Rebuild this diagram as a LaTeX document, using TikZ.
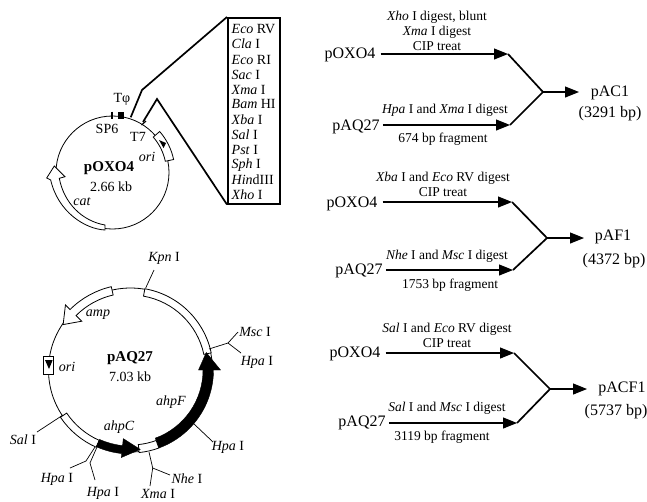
\documentclass[tikz,border=0pt]{standalone}
\usepackage{fontspec}
\setmainfont{Liberation Serif}
\usetikzlibrary{arrows.meta}
\tikzset{
 x=1pt,y=1pt,
 lab/.style={inner sep=0pt,font=\fontsize{14}{16}\selectfont},
 plab/.style={inner sep=0pt,align=center,font=\fontsize{13.5}{15}\selectfont},
 biglab/.style={inner sep=0pt,font=\fontsize{16}{18}\selectfont},
 boldlab/.style={inner sep=0pt,font=\fontsize{15}{17}\selectfont\bfseries},
 ring/.style={draw,line width=0.8pt},
 band/.style={draw,line width=0.8pt,fill=white,line join=miter},
 solid band/.style={draw,fill=black},
 tick/.style={line width=0.7pt},
 thin arrow/.style={line width=1.1pt,-{Triangle[length=14pt,width=11pt]}},
 fuse/.style={line width=1.7pt,line join=miter},
 leader/.style={line width=1.7pt,line join=miter},
}
\newcommand{\arcband}[6]{\draw[#6] ([shift={(#1)}]#2:#4) arc (#2:#3:#4) -- ([shift={(#1)}]#3:#5) arc (#3:#2:#5) -- cycle;}
\newcommand{\arrowband}[9]{\draw[#9] ([shift={(#1)}]#2:#5) arc (#2:#3:#5) -- ([shift={(#1)}]#3:#7) -- ([shift={(#1)}]#4:{(#5+#6)/2}) -- ([shift={(#1)}]#3:#8) -- ([shift={(#1)}]#3:#6) arc (#3:#2:#6) -- cycle;}
\begin{document}
\begin{tikzpicture}
\useasboundingbox (0,0) rectangle (647,-501);
% ===== pOXO4 =====
\coordinate (A) at (112.5,-172.5);
\draw[ring] (A) circle (56.5);
\draw[band] (105,-230) .. controls (85,-229) and (58,-212) .. (50.7,-180) -- (46.7,-178) -- (54.3,-166) -- (65,-176.7) -- (59.3,-178.3) .. controls (64,-203) and (82,-221) .. (105,-225) -- cycle;
\arcband{A}{41}{12}{54}{62.5}{band}
\fill (159,-140) -- (166,-143) -- (163.5,-148) -- cycle;
\node[boldlab] (n1) at (109,-168) {pOXO4};
\node[lab] (s1) at (111,-187) {2.66 kb};
\node[lab] (cat) at (82,-202) {\itshape cat};
\node[lab] (ori1) at (147,-157) {\itshape ori};
\node[lab] (sp6) at (107,-129) {SP6};
\node[lab] (t7) at (138,-137) {T7};
\node[lab] (tphi) at (122,-99) {Tφ};
\fill (117.5,-111.5) rectangle (124,-119);
\draw[line width=1.2pt] (112,-111.5) -- (112,-119);
\draw[line width=1.2pt] (141.5,-125) -- (146,-121);
\node[draw,line width=1.5pt,minimum width=52pt,minimum height=186pt,inner sep=0pt,anchor=north west] (box) at (227,-17) {};
\foreach \y/\t in {29/{\textit{Eco} RV},44/{\textit{Cla} I},60/{\textit{Eco} RI},75/{\textit{Sac} I},90/{\textit{Xma} I},104/{\textit{Bam} HI},120/{\textit{Xba} I},135/{\textit{Sal} I},150/{\textit{Pst} I},165/{\textit{Sph} I},180/{\textit{Hin}dIII},195/{\textit{Xho} I}}
  \node[lab,anchor=west] at (231.5,-\y) {\t};
\coordinate (L1) at (130.7,-117.3);
\coordinate (L2) at (142,-90);
\coordinate (L3) at (143,-122);
\coordinate (L4) at (157,-99);
\draw[leader] (L1) -- (L2) -- (box.north west);
\draw[leader] (L3) -- (L4) -- (box.south west);
% ===== pAQ27 =====
\coordinate (B) at (130.5,-370);
\draw[ring] (B) circle (82);
\arcband{B}{80}{12}{75}{82.5}{band}
\arrowband{B}{-70}{0}{13}{72.5}{83}{68}{90}{solid band}
\arcband{B}{-84}{-70}{75}{83}{band}
\arcband{B}{-114}{-146}{77}{84.5}{band}
\arrowband{B}{-114}{-96}{-83}{76}{84}{69}{88}{solid band}
\arrowband{B}{103}{135}{146}{77}{85.5}{69}{92}{band}
\node[draw,line width=0.8pt,fill=white,minimum width=10pt,minimum height=18pt,inner sep=0pt] (orib) at (48,-365) {};
\fill (45,-360) -- (52.7,-360) -- (49,-369) -- cycle;
\node[boldlab] (n2) at (130,-358) {pAQ27};
\node[lab] (s2) at (130,-377) {7.03 kb};
\node[lab] at (98,-315) {\itshape amp};
\node[lab] at (67,-367) {\itshape ori};
\node[lab] at (171,-402) {\itshape ahpF};
\node[lab] at (119,-427) {\itshape ahpC};
\node[lab] (kpn) at (164,-258) {\textit{Kpn} I};
\node[lab] (msc) at (255,-332) {\textit{Msc} I};
\node[lab] (hpa1) at (257,-362) {\textit{Hpa} I};
\node[lab] (hpa2) at (228,-447) {\textit{Hpa} I};
\node[lab] (nhe) at (187,-479) {\textit{Nhe} I};
\node[lab] (xma) at (158,-494) {\textit{Xma} I};
\node[lab] (hpa3) at (103,-493) {\textit{Hpa} I};
\node[lab] (hpa4) at (57,-479) {\textit{Hpa} I};
\node[lab] (sal) at (23,-440) {\textit{Sal} I};
\coordinate (k1) at (145.7,-288); \coordinate (k2) at (154,-270);
\draw[tick] (k1) -- (k2);
\coordinate (m1) at (209,-349); \coordinate (m2) at (228,-343);
\draw[tick] (m1) -- (m2) -- (238,-332);
\draw[tick] (m2) -- (241,-353);
\draw[tick] (193,-423) -- (213,-442);
\coordinate (x1) at (149,-452); \coordinate (x2) at (152.7,-468);
\draw[tick] (x1) -- (x2) -- (150,-486);
\draw[tick] (x2) -- (170,-475);
\draw[tick] (95,-447) -- (86,-461) -- (70,-468);
\draw[tick] (97,-447) -- (90,-463) -- (95,-480);
\draw[tick] (63,-415) -- (37,-432);
% ===== Panel 1 =====
\node[plab] at (437,-31) {\textit{Xho} I digest, blunt\\[0pt]\textit{Xma} I digest\\[0pt]CIP treat};
\node[biglab] (a1) at (350,-55) {pOXO4};
\node[biglab] (a2) at (356,-127) {pAQ27};
\coordinate (a3) at (508,-54);
\coordinate (a4) at (510,-125);
\coordinate (a5) at (543,-92);
\coordinate (a6) at (579,-92);
\draw[fuse] (a3) -- (a5) -- (a4);
\draw[thin arrow] (a1.east |- a3) ++(5,0) -- (a3);
\draw[thin arrow] (a2.east |- a4) ++(3,0) -- (a4);
\draw[thin arrow] (a5) -- (a6);
\node[plab] at (445,-110) {\textit{Hpa} I and \textit{Xma} I digest};
\node[plab] at (443,-139) {674 bp fragment};
\node[biglab] at (610,-93) {pAC1};
\node[biglab] at (610,-114) {(3291 bp)};
% ===== Panel 2 =====
\node[plab] at (443,-184) {\textit{Xba} I and \textit{Eco} RV digest\\[0pt]CIP treat};
\node[biglab] (b1) at (352,-204) {pOXO4};
\node[biglab] (b2) at (359,-271) {pAQ27};
\coordinate (b3) at (512,-202);
\coordinate (b4) at (513,-270);
\coordinate (b5) at (547,-238);
\coordinate (b6) at (584,-238);
\draw[fuse] (b3) -- (b5) -- (b4);
\draw[thin arrow] (b1.east |- b3) ++(5,0) -- (b3);
\draw[thin arrow] (b2.east |- b4) ++(3,0) -- (b4);
\draw[thin arrow] (b5) -- (b6);
\node[plab] at (447,-256) {\textit{Nhe} I and \textit{Msc} I digest};
\node[plab] at (450,-285) {1753 bp fragment};
\node[biglab] at (613,-237) {pAF1};
\node[biglab] at (614,-261) {(4372 bp)};
% ===== Panel 3 =====
\node[plab] at (447,-335) {\textit{Sal} I and \textit{Eco} RV digest\\[0pt]CIP treat};
\node[biglab] (c1) at (355,-354) {pOXO4};
\node[biglab] (c2) at (362,-423) {pAQ27};
\coordinate (c3) at (514,-353);
\coordinate (c4) at (517,-423);
\coordinate (c5) at (550,-389);
\coordinate (c6) at (587,-389);
\draw[fuse] (c3) -- (c5) -- (c4);
\draw[thin arrow] (c1.east |- c3) ++(5,0) -- (c3);
\draw[thin arrow] (c2.east |- c4) ++(3,0) -- (c4);
\draw[thin arrow] (c5) -- (c6);
\node[plab] at (447,-408) {\textit{Sal} I and \textit{Msc} I digest};
\node[plab] at (442,-437) {3119 bp fragment};
\node[biglab] at (622,-389) {pACF1};
\node[biglab] at (616,-412) {(5737 bp)};
\end{tikzpicture}
\end{document}
